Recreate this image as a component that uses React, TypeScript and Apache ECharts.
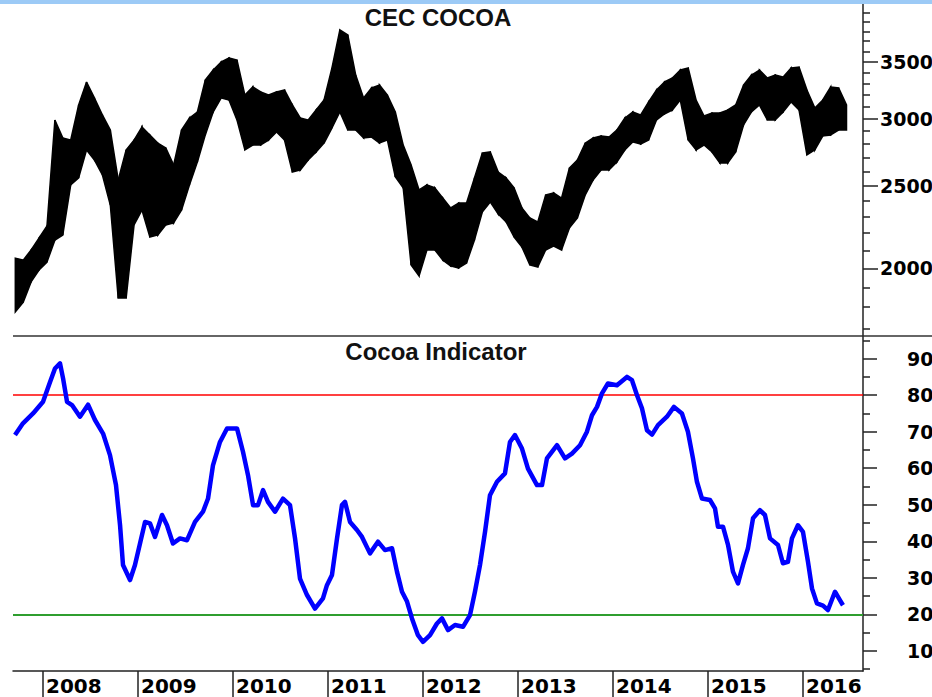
import React, { useEffect, useRef } from "react";
import * as echarts from "echarts";

// ---------- data ----------
const priceMonths = [
  "2007-09","2007-10","2007-11","2007-12",
  "2008-01","2008-02","2008-03","2008-04","2008-05","2008-06","2008-07","2008-08","2008-09","2008-10","2008-11","2008-12",
  "2009-01","2009-02","2009-03","2009-04","2009-05","2009-06","2009-07","2009-08","2009-09","2009-10","2009-11","2009-12",
  "2010-01","2010-02","2010-03","2010-04","2010-05","2010-06","2010-07","2010-08","2010-09","2010-10","2010-11","2010-12",
  "2011-01","2011-02","2011-03","2011-04","2011-05","2011-06","2011-07","2011-08","2011-09","2011-10","2011-11","2011-12",
  "2012-01","2012-02","2012-03","2012-04","2012-05","2012-06","2012-07","2012-08","2012-09","2012-10","2012-11","2012-12",
  "2013-01","2013-02","2013-03","2013-04","2013-05","2013-06","2013-07","2013-08","2013-09","2013-10","2013-11","2013-12",
  "2014-01","2014-02","2014-03","2014-04","2014-05","2014-06","2014-07","2014-08","2014-09","2014-10","2014-11","2014-12",
  "2015-01","2015-02","2015-03","2015-04","2015-05","2015-06","2015-07","2015-08","2015-09","2015-10","2015-11","2015-12",
  "2016-01","2016-02","2016-03","2016-04","2016-05","2016-06",
];
const priceHigh = [
  2056, 2045, 2102, 2171,
  2243, 2989, 2847, 2831, 3113, 3313, 3172, 3030, 2909, 2541, 2756, 2831,
  2933, 2870, 2808, 2771, 2646, 2909, 3005, 3055, 3331, 3422, 3497, 3535,
  3516, 3198, 3269, 3225, 3198, 3225, 3242, 3113, 3005, 2989, 3071, 3155,
  3441, 3814, 3763, 3376, 3172, 3260, 3286, 3198, 3055, 2793, 2646, 2473,
  2507, 2487, 2419, 2355, 2387, 2387, 2555, 2734, 2741, 2596, 2555, 2487,
  2355, 2292, 2268, 2440, 2453, 2419, 2624, 2682, 2808, 2847, 2862, 2854,
  2909, 3005, 3055, 3030, 3138, 3242, 3313, 3349, 3422, 3441, 3155, 3022,
  3046, 3046, 3071, 3113, 3286, 3376, 3422, 3349, 3376, 3358, 3441, 3450,
  3242, 3088, 3155, 3269, 3260, 3113,
];
const priceLow = [
  1777, 1825, 1928, 1991,
  2034, 2159, 2189, 2507, 2555, 2756, 2682, 2575, 2374, 1845, 1845, 2249,
  2342, 2177, 2189, 2249, 2262, 2342, 2507, 2668, 2870, 3055, 3172, 3155,
  2989, 2756, 2793, 2793, 2831, 2893, 2831, 2596, 2610, 2682, 2741, 2808,
  2925, 3055, 2909, 2909, 2847, 2854, 2808, 2831, 2562, 2487, 2018, 1959,
  2102, 2102, 2045, 2013, 2002, 2029, 2159, 2330, 2393, 2317, 2268, 2177,
  2119, 2018, 2007, 2102, 2125, 2102, 2231, 2292, 2440, 2541, 2610, 2610,
  2668, 2756, 2816, 2801, 2831, 2989, 3038, 3071, 3155, 2831, 2756, 2793,
  2741, 2660, 2660, 2741, 2949, 3055, 3113, 2989, 2989, 3055, 3138, 3071,
  2719, 2756, 2862, 2870, 2909, 2909,
];

const indicatorDates = [
  2007.705, 2007.789, 2007.895, 2008.000, 2008.074, 2008.126, 2008.179, 2008.211, 2008.253, 2008.305,
  2008.389, 2008.474, 2008.547, 2008.632, 2008.705, 2008.768, 2008.811, 2008.842, 2008.916, 2008.968,
  2009.021, 2009.074, 2009.126, 2009.179, 2009.253, 2009.305, 2009.368, 2009.442, 2009.516, 2009.600,
  2009.684, 2009.737, 2009.789, 2009.863, 2009.937, 2010.042, 2010.105, 2010.158, 2010.211, 2010.263,
  2010.316, 2010.368, 2010.442, 2010.526, 2010.600, 2010.653, 2010.705, 2010.779, 2010.863, 2010.947,
  2010.989, 2011.042, 2011.095, 2011.147, 2011.179, 2011.232, 2011.305, 2011.358, 2011.442, 2011.526,
  2011.600, 2011.674, 2011.726, 2011.779, 2011.832, 2011.884, 2011.947, 2012.000, 2012.074, 2012.147,
  2012.200, 2012.263, 2012.337, 2012.421, 2012.495, 2012.547, 2012.600, 2012.653, 2012.705, 2012.779,
  2012.863, 2012.916, 2012.968, 2013.042, 2013.105, 2013.200, 2013.253, 2013.305, 2013.411, 2013.495,
  2013.568, 2013.653, 2013.726, 2013.779, 2013.832, 2013.884, 2013.947, 2014.042, 2014.147, 2014.200,
  2014.253, 2014.305, 2014.358, 2014.411, 2014.474, 2014.568, 2014.642, 2014.726, 2014.789, 2014.842,
  2014.884, 2014.937, 2015.021, 2015.074, 2015.105, 2015.158, 2015.211, 2015.263, 2015.316, 2015.368,
  2015.421, 2015.474, 2015.547, 2015.600, 2015.653, 2015.737, 2015.789, 2015.842, 2015.884, 2015.947,
  2016.000, 2016.053, 2016.095, 2016.147, 2016.211, 2016.263, 2016.337, 2016.389, 2016.421,
];
const indicatorValues = [
  69.1, 72.3, 75.0, 78.2, 83.6, 87.3, 88.7, 84.6, 78.2, 77.3,
  74.1, 77.4, 73.2, 69.5, 63.6, 55.4, 44.4, 33.5, 29.4, 33.5,
  39.4, 45.3, 44.9, 41.2, 47.2, 44.4, 39.4, 40.8, 40.3, 45.3,
  48.1, 51.7, 60.8, 67.2, 70.9, 70.9, 64.5, 58.1, 49.9, 49.9,
  54.0, 50.8, 48.1, 51.7, 49.9, 40.8, 29.8, 25.3, 21.6, 24.4,
  28.0, 30.8, 40.8, 49.9, 50.8, 45.3, 43.1, 41.2, 36.7, 39.9,
  37.6, 38.1, 31.7, 26.2, 23.5, 18.9, 14.3, 12.5, 14.3, 17.5,
  18.9, 15.7, 17.1, 16.6, 19.8, 26.2, 33.5, 42.6, 52.6, 56.3,
  58.6, 67.2, 69.1, 65.4, 59.9, 55.4, 55.4, 62.7, 66.3, 62.7,
  64.0, 66.3, 70.0, 74.5, 76.8, 80.5, 83.2, 82.7, 85.0, 84.1,
  80.0, 76.4, 70.4, 69.2, 71.8, 74.1, 76.8, 75.0, 70.0, 62.7,
  56.3, 51.7, 51.3, 49.0, 44.0, 44.0, 39.0, 31.7, 28.5, 33.5,
  38.1, 46.3, 48.5, 47.2, 40.8, 39.0, 34.0, 34.4, 40.8, 44.4,
  42.6, 34.4, 27.1, 23.0, 22.4, 21.2, 26.2, 23.9, 22.5,
];

const yearTicks = [2008, 2009, 2010, 2011, 2012, 2013, 2014, 2015, 2016];
const priceMajorTicks = [2000, 2500, 3000, 3500];
const priceMinorTicks = [1700, 1800, 1900, 2100, 2200, 2300, 2400, 2600, 2700, 2800, 2900,
  3100, 3200, 3300, 3400, 3600, 3700, 3800, 3900, 4000];
const indicatorMajorTicks = [10, 20, 30, 40, 50, 60, 70, 80, 90];
const indicatorMinorTicks = [5, 15, 25, 35, 45, 55, 65, 75, 85, 95];
const overboughtLevel = 80;
const oversoldLevel = 20;

const X_MIN = 2007.684;
const X_MAX = 2016.632;

function monthToYear(m: string): number {
  const [y, mo] = m.split("-").map(Number);
  return y + (mo - 0.5) / 12;
}

const AXIS_COLOR = "#222";
const LABEL_FONT = "DejaVu Sans";

export default function App() {
  const ref = useRef<HTMLDivElement>(null);

  useEffect(() => {
    if (!ref.current) return;
    const chart = echarts.init(ref.current, null, { renderer: "svg" });

    const axisLine = { show: true, lineStyle: { color: AXIS_COLOR, width: 1.5 } };
    const labelBase = {
      color: "#000",
      fontFamily: LABEL_FONT,
      fontWeight: "bold" as const,
      fontSize: 19,
    };

    const option: any = {
      animation: false,
      backgroundColor: "#fff",
      title: [
        {
          text: "CEC COCOA",
          left: 438,
          top: 5,
          padding: 0,
          textAlign: "center",
          textStyle: { fontFamily: "Liberation Sans, Arial", fontWeight: "bold", fontSize: 24, color: "#111" },
        },
        {
          text: "Cocoa Indicator",
          left: 436,
          top: 339,
          padding: 0,
          textAlign: "center",
          textStyle: { fontFamily: "Liberation Sans, Arial", fontWeight: "bold", fontSize: 24, color: "#111" },
        },
      ],
      grid: [
        { left: 13, right: 69, top: 4, height: 332, outerBoundsMode: "none", containLabel: false },
        { left: 13, right: 69, top: 336, height: 335, outerBoundsMode: "none", containLabel: false },
      ],
      xAxis: [
        { type: "value", gridIndex: 0, min: X_MIN, max: X_MAX, show: false, splitLine: { show: false } },
        {
          type: "value",
          gridIndex: 1,
          min: X_MIN,
          max: X_MAX,
          position: "bottom",
          axisLine,
          splitLine: { show: false },
          axisTick: {
            show: true,
            customValues: yearTicks,
            length: 26,
            lineStyle: { color: AXIS_COLOR, width: 1.5 },
          },
          axisLabel: {
            ...labelBase,
            fontSize: 20,
            customValues: yearTicks,
            formatter: (v: number) => String(Math.round(v)),
            align: "left",
            margin: 5,
            padding: [0, 0, 0, 3],
          },
        },
      ],
      yAxis: [
        {
          type: "log",
          gridIndex: 0,
          min: 1665,
          max: 4092,
          position: "right",
          axisLine,
          splitLine: { show: false },
          axisTick: { show: true, customValues: priceMajorTicks, length: 15, lineStyle: { color: AXIS_COLOR, width: 1.5 } },
          axisLabel: {
            ...labelBase,
            customValues: priceMajorTicks,
            formatter: (v: number) => String(Math.round(v)),
            margin: 17,
          },
        },
        {
          type: "log",
          gridIndex: 0,
          min: 1665,
          max: 4092,
          position: "right",
          axisLine: { show: false },
          splitLine: { show: false },
          axisTick: { show: true, customValues: priceMinorTicks, length: 7, lineStyle: { color: AXIS_COLOR, width: 1.5 } },
          axisLabel: { show: false },
        },
        {
          type: "value",
          gridIndex: 1,
          min: 4.5,
          max: 96.2,
          position: "right",
          axisLine,
          splitLine: { show: false },
          axisTick: { show: true, customValues: indicatorMajorTicks, length: 14, lineStyle: { color: AXIS_COLOR, width: 1.5 } },
          axisLabel: {
            ...labelBase,
            customValues: indicatorMajorTicks,
            formatter: (v: number) => String(Math.round(v)),
            margin: 44,
            padding: [8, 0, 0, 0],
          },
        },
        {
          type: "value",
          gridIndex: 1,
          min: 4.5,
          max: 96.2,
          position: "right",
          axisLine: { show: false },
          splitLine: { show: false },
          axisTick: { show: true, customValues: indicatorMinorTicks, length: 7, lineStyle: { color: AXIS_COLOR, width: 1.5 } },
          axisLabel: { show: false },
        },
      ],
      graphic: [
        { type: "rect", shape: { x: 0, y: 0, width: 932, height: 4 }, style: { fill: "#9ccaf6" }, z: 10 },
        { type: "line", shape: { x1: 13, y1: 336, x2: 932, y2: 336 }, style: { stroke: "#333", lineWidth: 1.5 }, z: 10 },
      ],
      series: [
        {
          type: "custom",
          name: "CEC COCOA",
          xAxisIndex: 0,
          yAxisIndex: 0,
          clip: true,
          encode: { x: 0, y: [1, 2] },
          data: priceMonths.map((m, i) => [monthToYear(m), priceHigh[i], priceLow[i]]),
          renderItem: (params: any, api: any) => {
            const i = params.dataIndex;
            const j = i + 1;
            if (j >= priceMonths.length) return null;
            const x0 = monthToYear(priceMonths[i]);
            const x1 = monthToYear(priceMonths[j]);
            const a = api.coord([x0, priceHigh[i]]);
            const b = api.coord([x1, priceHigh[j]]);
            const c = api.coord([x1, priceLow[j]]);
            const d = api.coord([x0, priceLow[i]]);
            return {
              type: "polygon",
              shape: { points: [a, b, c, d] },
              style: { fill: "#000", stroke: "#000", lineWidth: 1.5 },
            };
          },
        },
        {
          type: "line",
          name: "Cocoa Indicator",
          xAxisIndex: 1,
          yAxisIndex: 2,
          showSymbol: false,
          symbol: "none",
          z: 3,
          lineStyle: { color: "#0000ff", width: 4.5, join: "round" },
          data: indicatorDates.map((d, i) => [d, indicatorValues[i]]),
          markLine: {
            z: 1,
            silent: true,
            symbol: "none",
            label: { show: false },
            data: [
              { yAxis: overboughtLevel, lineStyle: { color: "#ff0000", width: 1.5, type: "solid" } },
              { yAxis: oversoldLevel, lineStyle: { color: "#2f9e2f", width: 2, type: "solid" } },
            ],
          },
        },
      ],
    };

    chart.setOption(option);
    return () => chart.dispose();
  }, []);

  return (
    <div style={{ position: "fixed", left: 0, top: 0, width: 932, height: 697, overflow: "hidden", background: "#fff" }}>
      <div ref={ref} style={{ width: 932, height: 697 }} />
    </div>
  );
}
